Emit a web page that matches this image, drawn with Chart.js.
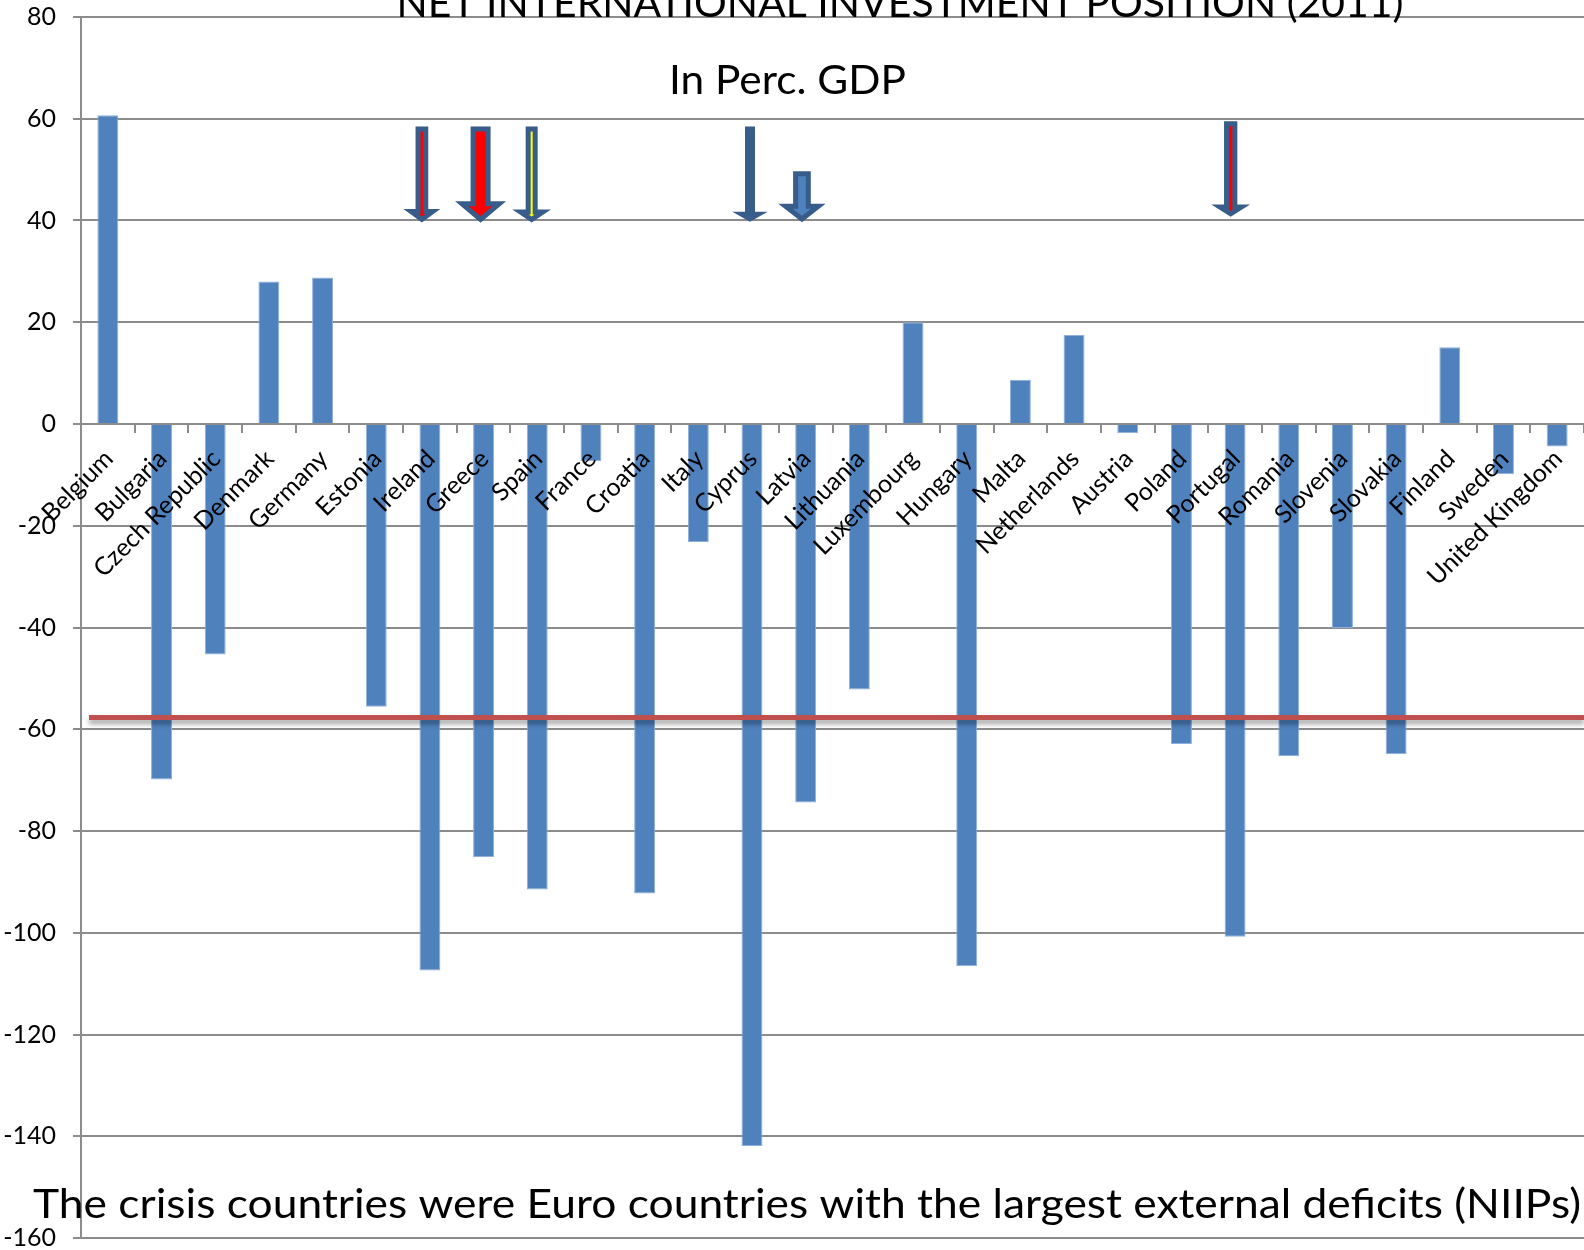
<!DOCTYPE html>
<html>
<head>
<meta charset="utf-8">
<title>Net International Investment Position (2011)</title>
<script src="https://cdn.jsdelivr.net/npm/chart.js@4.4.1/dist/chart.umd.min.js"></script>
<style>
  html, body { margin: 0; padding: 0; background: #ffffff; overflow: hidden; }
  canvas { display: block; }
</style>
</head>
<body>
<canvas id="niip" width="1584" height="1250"></canvas>
<script>
// Net international investment position, 2011, in percent of GDP
const countries = [
  'Belgium', 'Bulgaria', 'Czech Republic', 'Denmark', 'Germany', 'Estonia', 'Ireland',
  'Greece', 'Spain', 'France', 'Croatia', 'Italy', 'Cyprus', 'Latvia', 'Lithuania',
  'Luxembourg', 'Hungary', 'Malta', 'Netherlands', 'Austria', 'Poland', 'Portugal',
  'Romania', 'Slovenia', 'Slovakia', 'Finland', 'Sweden', 'United Kingdom'
];
const niipPercentGdp = [
  60.7, -69.9, -45.3, 28.0, 28.8, -55.6, -107.4,
  -85.1, -91.5, -7.3, -92.3, -23.2, -141.9, -74.4, -52.2,
  20.0, -106.6, 8.7, 17.5, -1.8, -62.9, -100.8,
  -65.3, -40.1, -64.9, 15.1, -9.9, -4.4
];
const yTickValues = [80, 60, 40, 20, 0, -20, -40, -60, -80, -100, -120, -140, -160];

// reference level drawn across the chart
const thresholdValue = -57.7;

// downward arrows marking the crisis countries (from / to, in axis units)
const arrowCountries = ['Ireland', 'Greece', 'Spain', 'Cyprus', 'Latvia', 'Portugal'];
const arrowFrom = [58.0, 58.0, 58.0, 58.0, 49.2, 59.0];
const arrowTo = [40.2, 40.2, 40.2, 40.3, 40.3, 41.3];

const titleText = 'NET INTERNATIONAL INVESTMENT POSITION (2011)';
const subtitleText = 'In Perc. GDP';
const noteText = 'The crisis countries were Euro countries with the largest external deficits (NIIPs)';

// arrow appearance (pixel sizes and fills)
const arrowLook = {
  Ireland:  { fill: '#ff0000', shaft: 7.7,  head: 21.7, headLen: 8,    dx: -8 },
  Greece:   { fill: '#ff0000', shaft: 15,   head: 37.3, headLen: 15.7, dx: -3 },
  Spain:    { fill: '#ffff00', shaft: 7,    head: 22.3, headLen: 7.5,  dx: -5.6 },
  Cyprus:   { fill: '#385d8a', shaft: 5,    head: 16.7, headLen: 4.8,  dx: -2 },
  Latvia:   { fill: '#4f81bd', shaft: 12.7, head: 32.7, headLen: 12.7, dx: -3.7 },
  Portugal: { fill: '#ff0000', shaft: 8.3,  head: 21.8, headLen: 7,    dx: -4.4 }
};

const FONT = 'Lato, "Open Sans", "Noto Sans", sans-serif';
const GRID = '#8c8c8c';

function drawFittedText(ctx, text, cx, baseline, width, size) {
  ctx.save();
  ctx.font = size + 'px ' + FONT;
  ctx.fillStyle = '#000000';
  ctx.textAlign = 'center';
  ctx.textBaseline = 'alphabetic';
  const w = ctx.measureText(text).width;
  ctx.translate(cx, baseline);
  ctx.scale(width / w, 1);
  ctx.fillText(text, 0, 0);
  ctx.restore();
}

const overlayPlugin = {
  id: 'niipOverlay',
  afterDatasetsDraw(chart) {
    const { ctx, chartArea, scales: { x, y } } = chart;

    // horizontal reference line with a soft shadow
    const ty = y.getPixelForValue(thresholdValue);
    ctx.save();
    ctx.strokeStyle = '#c0504d';
    ctx.lineWidth = 5;
    ctx.shadowColor = 'rgba(0,0,0,0.38)';
    ctx.shadowBlur = 5;
    ctx.shadowOffsetY = 4;
    ctx.beginPath();
    ctx.moveTo(chartArea.left + 8, ty);
    ctx.lineTo(chartArea.right, ty);
    ctx.stroke();
    ctx.restore();

    // block arrows
    arrowCountries.forEach((name, i) => {
      const look = arrowLook[name];
      const cx = x.getPixelForValue(countries.indexOf(name)) + look.dx;
      const y1 = y.getPixelForValue(arrowFrom[i]);
      const y2 = y.getPixelForValue(arrowTo[i]);
      const yh = y2 - look.headLen;
      const s = look.shaft / 2;
      const h = look.head / 2;
      ctx.save();
      ctx.beginPath();
      ctx.moveTo(cx - s, y1);
      ctx.lineTo(cx + s, y1);
      ctx.lineTo(cx + s, yh);
      ctx.lineTo(cx + h, yh);
      ctx.lineTo(cx, y2);
      ctx.lineTo(cx - h, yh);
      ctx.lineTo(cx - s, yh);
      ctx.closePath();
      ctx.fillStyle = look.fill;
      ctx.fill();
      ctx.lineJoin = 'miter';
      ctx.miterLimit = 10;
      ctx.lineWidth = 5;
      ctx.strokeStyle = '#385d8a';
      ctx.stroke();
      ctx.restore();
    });
  },
  afterDraw(chart) {
    const { ctx } = chart;
    drawFittedText(ctx, titleText, 900, 17, 1007, 40);
    drawFittedText(ctx, subtitleText, 787.5, 94, 237, 40);
    drawFittedText(ctx, noteText, 807, 1218, 1548, 40);
  }
};

new Chart(document.getElementById('niip'), {
  type: 'bar',
  data: {
    labels: countries,
    datasets: [{
      label: 'NIIP (% of GDP)',
      data: niipPercentGdp,
      backgroundColor: '#4f81bd',
      borderColor: '#8fb0dc',
      borderWidth: 1,
      barPercentage: 0.39,
      categoryPercentage: 1.0
    }]
  },
  options: {
    responsive: false,
    animation: false,
    devicePixelRatio: 1,
    layout: { padding: { top: 17, bottom: 12, left: 0, right: 0 } },
    plugins: {
      legend: { display: false },
      title: { display: false },
      tooltip: { enabled: false }
    },
    scales: {
      x: {
        position: { y: 0 },
        offset: true,
        grid: {
          display: true,
          drawOnChartArea: false,
          drawTicks: true,
          tickLength: 8,
          offset: true,
          color: GRID,
          lineWidth: 2,
          z: 1
        },
        border: { display: true, color: GRID, width: 2, z: 1 },
        ticks: {
          autoSkip: false,
          minRotation: 45,
          maxRotation: 45,
          padding: 12,
          labelOffset: 1,
          color: '#000000',
          font: { family: FONT, size: 25 },
          z: 1
        },
        afterFit(scale) {
          scale.paddingLeft = 0;
          scale.paddingRight = 0;
          scale.paddingTop = 0;
          scale.paddingBottom = 0;
        }
      },
      y: {
        min: yTickValues[yTickValues.length - 1],
        max: yTickValues[0],
        afterBuildTicks(scale) {
          scale.ticks = yTickValues.slice().reverse().map(v => ({ value: v }));
        },
        grid: { color: GRID, lineWidth: 2, tickLength: 8 },
        border: { display: true, color: GRID, width: 2 },
        ticks: {
          padding: 17,
          color: '#000000',
          font: { family: FONT, size: 25 }
        },
        afterFit(scale) {
          scale.width = 81;
          scale.paddingTop = 0;
          scale.paddingBottom = 0;
        }
      }
    }
  },
  plugins: [overlayPlugin]
});
</script>
</body>
</html>
